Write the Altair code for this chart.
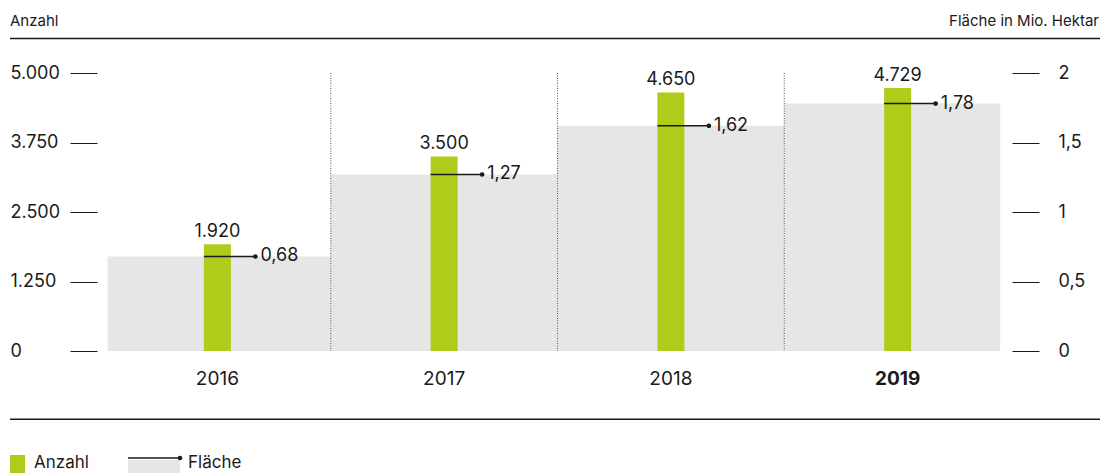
import altair as alt
import pandas as pd

years = ["2016", "2017", "2018", "2019"]
anzahl = [1920, 3500, 4650, 4729]
flaeche = [0.68, 1.27, 1.62, 1.78]
left_ticks = [0, 1250, 2500, 3750, 5000]
right_ticks = [0, 0.5, 1, 1.5, 2]

GREEN = "#b1cb1a"
GREY = "#e6e6e6"
INK = "#1a1a1a"
FONT = "Inter"

df = pd.DataFrame({"year": years, "anzahl": anzahl, "flaeche": flaeche})
one = pd.DataFrame({"k": [0]})

W, H = 907, 278

xscale = alt.Scale(domain=years, paddingInner=0, paddingOuter=0)
xenc = alt.X("year:N", scale=xscale, axis=None)

yR_scale = alt.Scale(domain=[0, 2], nice=False, zero=True)
yL_scale = alt.Scale(domain=[0, 5000], nice=False, zero=True)

axR = alt.Axis(orient="right", values=right_ticks, domain=False, grid=False,
               tickSize=27, tickColor=INK, tickWidth=1, offset=1,
               labelAlign="left", labelPadding=19, labelFontSize=18,
               labelFont=FONT, labelColor=INK, title=None,
               labelExpr="replace(toString(datum.value), '.', ',')")
axL = alt.Axis(orient="left", values=left_ticks, domain=False, grid=False,
               tickSize=27, tickColor=INK, tickWidth=1, offset=7,
               labelAlign="left", labelPadding=60, labelFontSize=18,
               labelFont=FONT, labelColor=INK, title=None,
               labelExpr="replace(format(datum.value, ','), ',', '.')")

base = alt.Chart(df)

yR = alt.Y("flaeche:Q", scale=yR_scale, axis=axR)
yL = alt.Y("anzahl:Q", scale=yL_scale, axis=axL)

# grey area bars (right axis); first and last trimmed as in the reference
grey_first = base.transform_filter("datum.year == '2016'").mark_bar(
    color=GREY, width=223, xOffset=1.75).encode(x=xenc, y=yR)
grey_mid = base.transform_filter("datum.year == '2017' || datum.year == '2018'").mark_bar(
    color=GREY, width=alt.RelativeBandSize(1)).encode(x=xenc, y=yR)
grey_last = base.transform_filter("datum.year == '2019'").mark_bar(
    color=GREY, width=216, xOffset=-5.4).encode(x=xenc, y=yR)
grey = alt.layer(grey_first, grey_mid, grey_last)

# dotted separators
sep = base.transform_filter("datum.year != '2016'").mark_rule(
    color="#555", strokeDash=[1, 1.5], strokeWidth=1
).encode(
    x=alt.X("year:N", bandPosition=0, scale=xscale, axis=None),
    y=alt.value(0), y2=alt.value(H),
)

# green bars (left axis)
bars = base.mark_bar(color=GREEN, width=27).encode(x=xenc, y=yL)
bar_labels = base.transform_calculate(
    lbl="replace(format(datum.anzahl, ','), ',', '.')"
).mark_text(dy=-7, baseline="alphabetic", fontSize=18, font=FONT, color=INK).encode(
    x=xenc, y=yL, text="lbl:N"
)

# flaeche line, dot, label
yR2 = alt.Y("flaeche:Q", scale=yR_scale, axis=None)
fl_line = base.mark_rule(color=INK, strokeWidth=1.5, xOffset=-13.5, x2Offset=38).encode(
    x=xenc, x2="year:N", y=yR2
)
fl_dot = base.mark_point(filled=True, color=INK, size=22, opacity=1, xOffset=38).encode(
    x=xenc, y=yR2
)
fl_text = base.transform_calculate(
    lbl="replace(format(datum.flaeche, '.2f'), '.', ',')"
).mark_text(align="left", baseline="middle", dx=43, dy=0, fontSize=18, font=FONT, color=INK).encode(
    x=xenc, y=yR2, text="lbl:N"
)

# year labels
yr_norm = base.transform_filter("datum.year != '2019'").mark_text(
    baseline="middle", fontSize=19, font=FONT, color=INK
).encode(x=xenc, y=alt.value(306), text="year:N")
yr_bold = base.transform_filter("datum.year == '2019'").mark_text(
    baseline="middle", fontSize=19, font=FONT, color=INK, fontWeight="bold"
).encode(x=xenc, y=alt.value(306), text="year:N")

# decorations (headers, lines, legend)
ob = alt.Chart(one)
hdr_l = ob.mark_text(align="left", baseline="alphabetic", fontSize=15, font=FONT, color=INK).encode(
    x=alt.value(-94), y=alt.value(-47), text=alt.value("Anzahl"))
hdr_r = ob.mark_text(align="right", baseline="alphabetic", fontSize=15, font=FONT, color=INK).encode(
    x=alt.value(995), y=alt.value(-47), text=alt.value("Fläche in Mio. Hektar"))
top_line = ob.mark_rule(color=INK, strokeWidth=1.5).encode(
    x=alt.value(-94), x2=alt.value(1010), y=alt.value(-34.5))
bot_line = ob.mark_rule(color=INK, strokeWidth=1.5).encode(
    x=alt.value(-94), x2=alt.value(1010), y=alt.value(346.3))
leg_sq = ob.mark_rect(color=GREEN).encode(
    x=alt.value(-94), x2=alt.value(-79), y=alt.value(382), y2=alt.value(400))
leg_t1 = ob.mark_text(align="left", baseline="alphabetic", fontSize=17, font=FONT, color=INK).encode(
    x=alt.value(-70), y=alt.value(395), text=alt.value("Anzahl"))
leg_grey = ob.mark_rect(color=GREY).encode(
    x=alt.value(24), x2=alt.value(76), y=alt.value(387), y2=alt.value(400))
leg_line = ob.mark_rule(color=INK, strokeWidth=1.5).encode(
    x=alt.value(24), x2=alt.value(76), y=alt.value(385))
leg_dot = ob.mark_point(filled=True, color=INK, size=22, opacity=1).encode(
    x=alt.value(76), y=alt.value(385))
leg_t2 = ob.mark_text(align="left", baseline="alphabetic", fontSize=17, font=FONT, color=INK).encode(
    x=alt.value(84), y=alt.value(395), text=alt.value("Fläche"))

left_layer = alt.layer(sep, bars, bar_labels, yr_norm, yr_bold, hdr_l, hdr_r, top_line, bot_line,
                       leg_sq, leg_t1, leg_grey, leg_line, leg_dot, leg_t2)
right_layer = alt.layer(fl_line, fl_dot, fl_text)

chart = alt.layer(grey, left_layer, right_layer).resolve_scale(y="independent").properties(
    width=W, height=H,
    autosize=alt.AutoSizeParams(type="none"),
    padding={"left": 96, "top": 65, "right": 89, "bottom": 122},
).configure_view(stroke=None)

chart.save("out.html", embed_options={"renderer": "svg", "actions": False})
